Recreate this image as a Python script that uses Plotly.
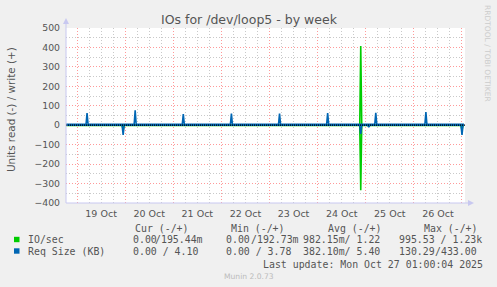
import plotly.graph_objects as go

# ---------------- data ----------------
x_start = "2025-10-18 18:30"
x_end = "2025-10-27 01:30"

io_write_t = ["2025-10-18 18:30", "2025-10-24 21:00", "2025-10-24 21:30", "2025-10-24 22:00", "2025-10-27 01:00"]
io_write_v = [1.2, 1.2, 407, 1.2, 1.2]

io_read_t = ["2025-10-18 18:30", "2025-10-19 22:30", "2025-10-19 23:00", "2025-10-19 23:30",
             "2025-10-24 21:00", "2025-10-24 21:30", "2025-10-24 22:00",
             "2025-10-26 23:30", "2025-10-27 00:00", "2025-10-27 00:30", "2025-10-27 01:00"]
io_read_v = [-1, -1, -25, -1, -1, -335, -1, -1, -25, -1, -1]

req_write_t = ["2025-10-18 18:30",
               "2025-10-19 04:30", "2025-10-19 05:00", "2025-10-19 05:30",
               "2025-10-20 04:30", "2025-10-20 05:00", "2025-10-20 05:30",
               "2025-10-21 04:30", "2025-10-21 05:00", "2025-10-21 05:30",
               "2025-10-22 04:30", "2025-10-22 05:00", "2025-10-22 05:30",
               "2025-10-23 04:30", "2025-10-23 05:00", "2025-10-23 05:30",
               "2025-10-24 04:30", "2025-10-24 05:00", "2025-10-24 05:30",
               "2025-10-25 04:30", "2025-10-25 05:00", "2025-10-25 05:30",
               "2025-10-26 05:30", "2025-10-26 06:00", "2025-10-26 06:30",
               "2025-10-27 01:00"]
req_write_v = [4.5,
               4.5, 62, 4.5,
               4.5, 77, 4.5,
               4.5, 57, 4.5,
               4.5, 60, 4.5,
               4.5, 60, 4.5,
               4.5, 62, 4.5,
               4.5, 64, 4.5,
               4.5, 67, 4.5,
               4.5]

req_read_t = ["2025-10-18 18:30",
              "2025-10-19 22:30", "2025-10-19 23:00", "2025-10-19 23:30",
              "2025-10-24 21:00", "2025-10-24 21:30", "2025-10-24 22:00",
              "2025-10-25 01:00", "2025-10-25 01:30", "2025-10-25 02:00",
              "2025-10-26 23:30", "2025-10-27 00:00", "2025-10-27 00:30",
              "2025-10-27 01:00"]
req_read_v = [-0.4,
              -0.4, -50, -0.4,
              -0.4, -45, -0.4,
              -0.4, -10, -0.4,
              -0.4, -50, -0.4,
              -0.4]

title_text = "IOs for /dev/loop5 - by week"
ylabel_text = "Units read (-) / write (+)"
legend_header = ["Cur (-/+)", "Min (-/+)", "Avg (-/+)", "Max (-/+)"]
series_names = ["IO/sec", "Req Size (KB)"]
last_update = "Last update: Mon Oct 27 01:00:04 2025"
munin_version = "Munin 2.0.73"
rrd_credit = "RRDTOOL / TOBI OETIKER"

GREEN = "#00CC00"
BLUE = "#0066B3"

# ---------------- layout geometry ----------------
W, H = 497, 287
L, R, T, B = 66, 465, 28, 203
PW, PH = R - L, B - T


def xp(px):
    return (px - L) / PW


def yp(py):
    return (B - py) / PH


fig = go.Figure()
fig.add_trace(go.Scatter(x=io_write_t, y=io_write_v, mode="lines", line=dict(color=GREEN, width=1.6), showlegend=False))
fig.add_trace(go.Scatter(x=io_read_t, y=io_read_v, mode="lines", line=dict(color=GREEN, width=1.6), showlegend=False))
fig.add_trace(go.Scatter(x=req_write_t, y=req_write_v, mode="lines", line=dict(color=BLUE, width=1.6), showlegend=False))
fig.add_trace(go.Scatter(x=req_read_t, y=req_read_v, mode="lines", line=dict(color=BLUE, width=1.6), showlegend=False))

MAJ = "rgba(255,0,0,0.4)"
MIN = "rgba(120,120,120,0.4)"
TXT = "#555555"

fig.update_layout(
    width=W, height=H,
    margin=dict(l=L, r=W - R, t=T, b=H - B, pad=0),
    paper_bgcolor="#F0F0F0",
    plot_bgcolor="#FFFFFF",
    font=dict(family="DejaVu Sans", color=TXT, size=9.5),
    xaxis=dict(
        type="date", range=[x_start, x_end],
        tick0="2025-10-19", dtick=86400000,
        tickformat="%d %b", ticklabelmode="period",
        showgrid=True, gridcolor=MAJ, griddash="1px,2px", gridwidth=1,
        minor=dict(dtick=6 * 3600000, showgrid=True, gridcolor=MIN, griddash="1px,2px", gridwidth=1),
        ticks="", zeroline=False, showline=False,
        tickfont=dict(size=9.5, color=TXT),
        ticklabelstandoff=3,
    ),
    yaxis=dict(
        range=[-400, 500], dtick=100, tick0=0,
        showgrid=True, gridcolor=MAJ, griddash="1px,2px", gridwidth=1,
        minor=dict(dtick=50, showgrid=True, gridcolor=MIN, griddash="1px,2px", gridwidth=1),
        ticks="", zeroline=False, showline=False,
        tickfont=dict(size=9.3, color=TXT),
        ticklabelstandoff=5,
    ),
)

shapes = []
# zero line (black dotted)
shapes.append(dict(type="line", xref="paper", yref="y", x0=0, x1=1, y0=0, y1=0,
                   line=dict(color="#000000", width=1.2, dash="1px,1px"), layer="above"))
AX = "#C8C8F0"
# axis lines
shapes.append(dict(type="line", xref="paper", yref="paper", x0=0, x1=0, y0=0, y1=yp(22),
                   line=dict(color=AX, width=1), layer="above"))
shapes.append(dict(type="line", xref="paper", yref="paper", x0=0, x1=xp(470), y0=0, y1=0,
                   line=dict(color=AX, width=1), layer="above"))
# arrow heads
shapes.append(dict(type="path", xref="paper", yref="paper",
                   path=f"M {xp(63)} {yp(24)} L {xp(69)} {yp(24)} L {xp(66)} {yp(18)} Z",
                   fillcolor=AX, line=dict(color=AX, width=0), layer="above"))
shapes.append(dict(type="path", xref="paper", yref="paper",
                   path=f"M {xp(468)} {yp(200)} L {xp(468)} {yp(206)} L {xp(474)} {yp(203)} Z",
                   fillcolor=AX, line=dict(color=AX, width=0), layer="above"))
# legend squares
for py, col in [(239.5, GREEN), (251, BLUE)]:
    shapes.append(dict(type="rect", xref="paper", yref="paper",
                       x0=xp(14), x1=xp(19.5), y0=yp(py + 2.7), y1=yp(py - 2.7),
                       fillcolor=col, line=dict(width=0)))
fig.update_layout(shapes=shapes)

ann = []


def text(px, py, s, size=9.9, color=TXT, family="DejaVu Sans Mono", anchor="left", angle=0):
    ann.append(dict(x=xp(px), y=yp(py), xref="paper", yref="paper", text=s, showarrow=False,
                    xanchor=anchor, yanchor="middle", borderpad=0, textangle=angle,
                    font=dict(family=family, size=size, color=color)))


text(249, 19, title_text, size=12.5, family="DejaVu Sans", anchor="center")
text(11, 110, ylabel_text, size=10.4, family="DejaVu Sans", anchor="center", angle=-90)
text(488, 53, rrd_credit, size=7.5, family="DejaVu Sans", color="#CCCCCC", anchor="center", angle=90)

# legend header
for s, px in zip(legend_header, [134, 230, 327, 423]):
    text(px, 228, s)
# row 1
text(27, 239.5, series_names[0])
text(132, 239.5, "0.00")
text(204, 239.5, "/195.44m", anchor="right")
text(225, 239.5, "0.00")
text(299.5, 239.5, "/192.73m", anchor="right")
text(302, 239.5, "982.15m/ 1.22")
text(398, 239.5, "995.53 / 1.23k")
# row 2
text(27, 251, series_names[1])
text(132, 251, "0.00 / 4.10")
text(225, 251, "0.00 / 3.78")
text(302, 251, "382.10m/ 5.40")
text(398, 251, "130.29")
text(478, 251, "/433.00", anchor="right")
# footer
text(262, 264, last_update)
text(223, 276, munin_version, size=7.6, family="DejaVu Sans", color="#BBBBBB")

fig.update_layout(annotations=ann)

fig.write_html("out.html")
